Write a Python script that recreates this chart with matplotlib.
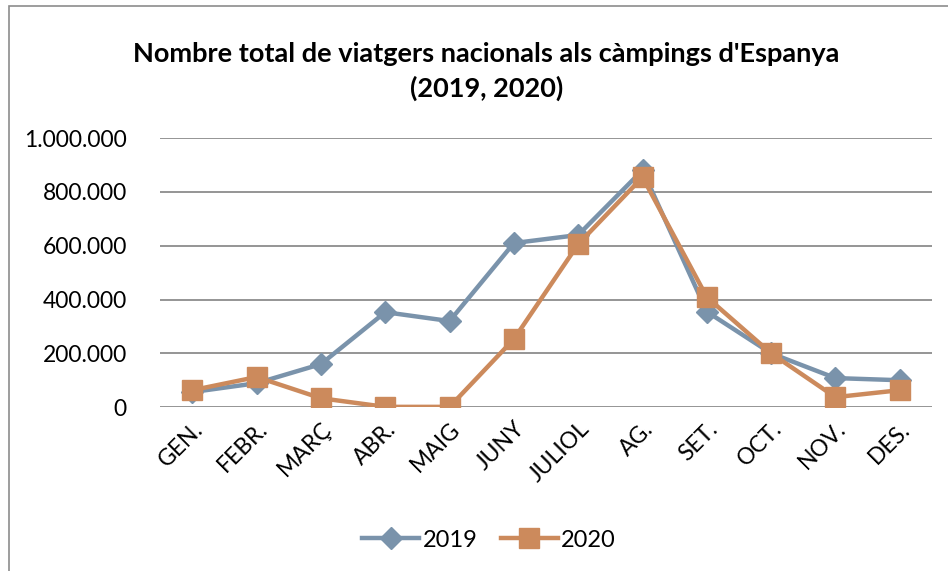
import matplotlib
matplotlib.use("Agg")
import matplotlib.pyplot as plt
from matplotlib.patches import Rectangle
from matplotlib.ticker import FuncFormatter

months = ["GEN.", "FEBR.", "MARÇ", "ABR.", "MAIG", "JUNY", "JULIOL",
          "AG.", "SET.", "OCT.", "NOV.", "DES."]
v2019 = [56000, 89000, 160000, 353000, 320000, 610000, 640000,
         881000, 355000, 200000, 108000, 100000]
v2020 = [63000, 112000, 33000, 1000, 1000, 253000, 606000,
         855000, 409000, 200000, 37000, 63000]

plt.rcParams["font.family"] = ["Lato", "DejaVu Sans"]

fig = plt.figure(figsize=(9.48, 5.71), dpi=100)
ax = fig.add_axes([0.169, 0.287, 0.814, 0.471])

x = range(len(months))
ax.plot(x, v2019, color="#7a93ab", lw=3.2, marker="D", ms=11, label="2019", zorder=3)
ax.plot(x, v2020, color="#cc8a5c", lw=3.2, marker="s", ms=14, label="2020", zorder=4)

ax.set_xlim(-0.5, 11.5)
ax.set_ylim(0, 1000000)
ax.set_yticks(range(0, 1000001, 200000))
ax.yaxis.set_major_formatter(FuncFormatter(lambda v, p: f"{int(v):,}".replace(",", ".")))
ax.grid(axis="y", color="#8c8c8c", lw=1.3)
ax.set_axisbelow(True)
ax.set_xticks(list(x))
ax.set_xticklabels(months, rotation=45, ha="right", rotation_mode="anchor", fontsize=16.5)
ax.tick_params(axis="y", labelsize=16.5, length=0, pad=24)
ax.tick_params(axis="x", length=0, pad=8)
for s in ax.spines.values():
    s.set_visible(False)

fig.text(0.513, 0.905, "Nombre total de viatgers nacionals als càmpings d'Espanya",
         ha="center", va="center", fontsize=19.5, weight="bold")
fig.text(0.513, 0.845, "(2019, 2020)", ha="center", va="center", fontsize=19.5, weight="bold")

fig.legend(loc="center", bbox_to_anchor=(0.516, 0.054), ncol=2, frameon=False,
           fontsize=17, handlelength=2.4, columnspacing=1.0, handletextpad=0.15)

fig.patches.append(Rectangle((0.009, -0.01), 1.1, 1.0, transform=fig.transFigure,
                             fill=False, edgecolor="#8c8c8c", lw=1.2))

fig.savefig("out.png", dpi=100)
